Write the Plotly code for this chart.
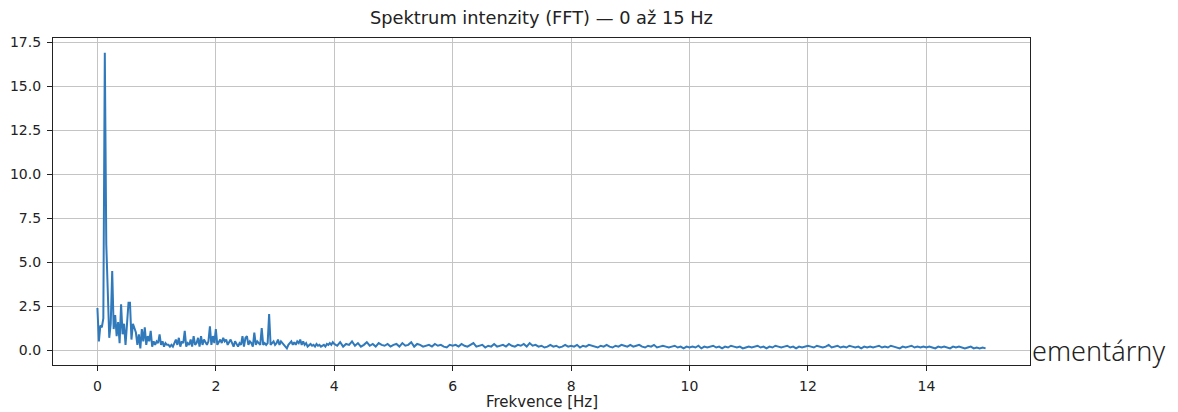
import numpy as np
import plotly.graph_objects as go

# Frequency bins (Hz): fine bins 0-4 Hz, coarser bins 4.05-15 Hz
freq_low = np.round(np.arange(0, 4.0001, 0.025), 3)
freq_high = np.round(np.arange(4.05, 15.0001, 0.05), 3)

amp_low = [
    2.4, 0.5, 1.4, 1.3, 1.8, 16.9, 6.0, 2.6, 0.7, 1.5,
    4.5, 1.2, 2.0, 0.8, 1.6, 0.4, 2.6, 0.9, 1.5, 0.3,
    1.3, 2.7, 2.7, 0.6, 1.5, 1.3, 1.0, 0.3, 0.9, 0.1,
    1.2, 0.5, 1.3, 0.3, 0.8, 0.5, 1.1, 0.2, 0.5, 0.3,
    0.5, 0.4, 0.9, 0.3, 0.5, 0.2, 0.4, 0.3, 0.3, 0.2,
    0.3, 0.2, 0.4, 0.6, 0.3, 0.7, 0.2, 0.5, 0.4, 1.1,
    0.2, 0.4, 0.3, 0.6, 0.2, 0.8, 0.3, 0.4, 0.7, 0.2,
    0.8, 0.3, 0.6, 0.4, 0.3, 0.5, 1.35, 0.3, 0.8, 0.4,
    1.2, 0.3, 0.5, 0.6, 0.4, 0.7, 0.5, 0.6, 0.3, 0.5,
    0.6, 0.4, 0.2, 0.5, 0.3, 0.2, 0.4, 0.3, 0.8, 0.2,
    0.7, 0.8, 0.3, 0.5, 0.4, 0.2, 1.0, 0.3, 0.5, 0.4,
    0.3, 1.25, 0.3, 0.4, 0.3, 0.4, 2.05, 0.3, 0.4, 0.5,
    0.3, 0.4, 0.6, 0.3, 0.5, 0.4, 0.3, 0.2, 0.1, 0.3,
    0.4, 0.5, 0.3, 0.45, 0.3, 0.5, 0.4, 0.6, 0.3, 0.5,
    0.3, 0.4, 0.2, 0.3, 0.35, 0.25, 0.3, 0.2, 0.35, 0.25,
    0.3, 0.2, 0.25, 0.3, 0.2, 0.35, 0.3, 0.4, 0.3, 0.45,
    0.35,
]

amp_high = [
    0.25, 0.45, 0.2, 0.35, 0.3, 0.5, 0.25, 0.4, 0.2, 0.3, 0.45, 0.25, 0.35, 0.2, 0.4, 0.3, 0.25, 0.35, 0.2, 0.3,
    0.35, 0.2, 0.4, 0.25, 0.3, 0.45, 0.2, 0.35, 0.3, 0.2, 0.25, 0.3, 0.2, 0.35, 0.25, 0.3, 0.2, 0.15, 0.3, 0.25,
    0.3, 0.2, 0.35, 0.25, 0.2, 0.3, 0.4, 0.2, 0.25, 0.3, 0.15, 0.25, 0.2, 0.35, 0.2, 0.25, 0.3, 0.2, 0.35, 0.25,
    0.2, 0.3, 0.25, 0.35, 0.2, 0.4, 0.25, 0.3, 0.2, 0.25, 0.15, 0.2, 0.3, 0.2, 0.25, 0.15, 0.2, 0.3, 0.2, 0.25,
    0.2, 0.3, 0.15, 0.25, 0.2, 0.3, 0.25, 0.2, 0.15, 0.25, 0.2, 0.3, 0.2, 0.15, 0.25, 0.2, 0.3, 0.25, 0.2, 0.3,
    0.2, 0.25, 0.3, 0.2, 0.15, 0.25, 0.2, 0.3, 0.15, 0.2, 0.25, 0.2, 0.15, 0.2, 0.25, 0.15, 0.2, 0.1, 0.2, 0.15,
    0.2, 0.15, 0.25, 0.1, 0.2, 0.15, 0.2, 0.25, 0.15, 0.2, 0.1, 0.2, 0.15, 0.25, 0.2, 0.15, 0.2, 0.1, 0.15, 0.2,
    0.15, 0.2, 0.25, 0.15, 0.2, 0.1, 0.2, 0.15, 0.25, 0.2, 0.15, 0.2, 0.25, 0.15, 0.2, 0.1, 0.2, 0.15, 0.2, 0.25,
    0.2, 0.15, 0.25, 0.2, 0.15, 0.2, 0.3, 0.15, 0.2, 0.25, 0.15, 0.2, 0.15, 0.25, 0.2, 0.15, 0.2, 0.1, 0.2, 0.15,
    0.2, 0.15, 0.2, 0.25, 0.15, 0.2, 0.15, 0.25, 0.2, 0.15, 0.1, 0.2, 0.15, 0.2, 0.25, 0.15, 0.2, 0.15, 0.2, 0.15,
    0.2, 0.15, 0.1, 0.2, 0.15, 0.2, 0.15, 0.1, 0.2, 0.15, 0.2, 0.15, 0.1, 0.15, 0.2, 0.1, 0.15, 0.1, 0.15, 0.1,
]

freq = list(freq_low) + list(freq_high)
amp = amp_low + amp_high

x_ticks = [0, 2, 4, 6, 8, 10, 12, 14]
y_ticks = [0.0, 2.5, 5.0, 7.5, 10.0, 12.5, 15.0, 17.5]
y_tick_labels = ["0.0", "2.5", "5.0", "7.5", "10.0", "12.5", "15.0", "17.5"]

title_text = "Spektrum intenzity (FFT) — 0 až 15 Hz"
x_title = "Frekvence [Hz]"
side_text = "ementárny"

# The page body adds an 8 px offset, so the figure is 8 px smaller each way
W, H = 1170, 404
L, T, R, B = 45, 30, 148, 47
plot_h = H - T - B

fig = go.Figure()
fig.add_trace(go.Scatter(
    x=freq, y=amp, mode="lines",
    line=dict(color="#3079ba", width=2),
    showlegend=False, hoverinfo="skip",
))

axis_common = dict(
    automargin=False,
    showline=True, linecolor="#222", linewidth=1.2, mirror=True,
    ticks="outside", ticklen=5, tickcolor="#222", tickwidth=1.2,
    showgrid=True, gridcolor="#c4c4c4", gridwidth=1.2,
    zeroline=False, ticklabelstandoff=3,
    tickfont=dict(family="DejaVu Sans", size=14, color="#222"),
)

fig.update_layout(
    width=W, height=H,
    margin=dict(l=L, r=R, t=T, b=B, autoexpand=False),
    paper_bgcolor="white", plot_bgcolor="white",
    title=dict(text=title_text, x=0.5, xref="paper", xanchor="center",
               y=1 - 10 / H, yref="container", yanchor="middle",
               font=dict(family="DejaVu Sans", size=17.8, color="#222")),
    xaxis=dict(range=[-0.75, 15.75], tickvals=x_ticks, **axis_common),
    yaxis=dict(range=[-0.845, 17.745], tickvals=y_ticks, ticktext=y_tick_labels,
               **axis_common),
    annotations=[
        dict(text=x_title, xref="paper", yref="paper", x=0.5, y=-37 / plot_h,
             xanchor="center", yanchor="middle", showarrow=False,
             font=dict(family="DejaVu Sans", size=15, color="#222")),
        dict(text=side_text, xref="paper", yref="paper", x=1.0, y=15 / plot_h,
             xanchor="left", yanchor="middle", showarrow=False,
             font=dict(family="Noto Sans", size=27, color="#222", weight=300)),
    ],
)

fig.write_html("out.html")
